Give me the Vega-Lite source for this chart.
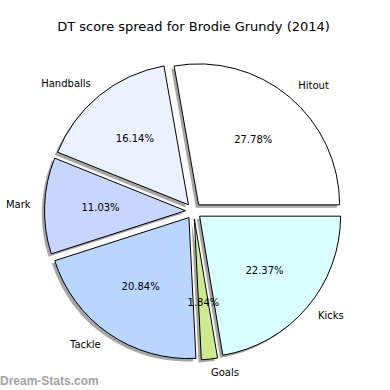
{
  "$schema": "https://vega.github.io/schema/vega-lite/v6.json",
  "width": 390,
  "height": 390,
  "autosize": {"type": "fit", "contains": "padding"},
  "padding": {"top": 21, "left": 0, "right": 3, "bottom": 0},
  "background": "white",
  "title": {"text": "DT score spread for Brodie Grundy (2014)", "font": "DejaVu Sans", "fontSize": 13, "fontWeight": "normal", "color": "#000000", "anchor": "middle", "offset": -2},
  "config": {"view": {"stroke": null}, "text": {"font": "DejaVu Sans"}},
  "layer": [
    {
      "data": {"values": [
        {"stat": "Hitout", "pct": 27.78},
        {"stat": "Handballs", "pct": 16.14},
        {"stat": "Mark", "pct": 11.03},
        {"stat": "Tackle", "pct": 20.84},
        {"stat": "Goals", "pct": 1.84},
        {"stat": "Kicks", "pct": 22.37}
      ]},
      "transform": [
        {"joinaggregate": [{"op": "sum", "field": "pct", "as": "total"}]},
        {"window": [{"op": "sum", "field": "pct", "as": "t1"}], "frame": [null, 0]},
        {"calculate": "datum.t1 - datum.pct", "as": "t0"},
        {"calculate": "(datum.t0 + datum.t1) / 2", "as": "tm"},
        {"calculate": "PI/2 - 2*PI*datum.tm/datum.total", "as": "ang"},
        {"calculate": "sin(datum.ang)", "as": "ux"},
        {"calculate": "-cos(datum.ang)", "as": "uy"},
        {"calculate": "datum.ux - 0.35", "as": "sx"},
        {"calculate": "datum.uy + 0.35", "as": "sy"},
        {"calculate": "datum.pct / datum.total", "as": "frac"}
      ],
      "layer": [
        {
          "mark": {"type": "arc", "outerRadius": 141, "fill": "#4d4d4d", "opacity": 0.5, "strokeWidth": 0},
          "encoding": {
            "theta": {"field": "t0", "type": "quantitative", "stack": null, "scale": {"domain": [0, 100], "range": [1.5707963, -4.712389]}},
            "theta2": {"field": "t1"},
            "xOffset": {"field": "sx", "type": "quantitative", "scale": {"domain": [-1, 1], "range": [-8, 8]}},
            "yOffset": {"field": "sy", "type": "quantitative", "scale": {"domain": [-1, 1], "range": [-8, 8]}}
          }
        },
        {
          "mark": {"type": "arc", "outerRadius": 141, "stroke": "#000000", "strokeWidth": 1},
          "encoding": {
            "theta": {"field": "t0", "type": "quantitative", "stack": null},
            "theta2": {"field": "t1"},
            "xOffset": {"field": "ux", "type": "quantitative"},
            "yOffset": {"field": "uy", "type": "quantitative"},
            "fill": {"field": "stat", "type": "nominal", "legend": null, "scale": {
              "domain": ["Hitout", "Handballs", "Mark", "Tackle", "Goals", "Kicks"],
              "range": ["#ffffff", "#ebf1ff", "#c8d6ff", "#b8d6ff", "#cfea8e", "#d9ffff"]}}
          }
        },
        {
          "transform": [{"filter": "datum.ux >= 0"}],
          "mark": {"type": "text", "radius": 155, "align": "left", "baseline": "middle", "fontSize": 10, "color": "#000000"},
          "encoding": {
            "text": {"field": "stat", "type": "nominal"},
            "theta": {"field": "tm", "type": "quantitative", "stack": null},
            "xOffset": {"field": "ux", "type": "quantitative"},
            "yOffset": {"field": "uy", "type": "quantitative"}
          }
        },
        {
          "transform": [{"filter": "datum.ux < 0"}],
          "mark": {"type": "text", "radius": 155, "align": "right", "baseline": "middle", "fontSize": 10, "color": "#000000"},
          "encoding": {
            "text": {"field": "stat", "type": "nominal"},
            "theta": {"field": "tm", "type": "quantitative", "stack": null},
            "xOffset": {"field": "ux", "type": "quantitative"},
            "yOffset": {"field": "uy", "type": "quantitative"}
          }
        },
        {
          "mark": {"type": "text", "radius": 85, "align": "center", "baseline": "middle", "fontSize": 10, "color": "#000000"},
          "encoding": {
            "text": {"field": "frac", "type": "quantitative", "format": ".2%"},
            "theta": {"field": "tm", "type": "quantitative", "stack": null},
            "xOffset": {"field": "ux", "type": "quantitative"},
            "yOffset": {"field": "uy", "type": "quantitative"}
          }
        }
      ]
    },
    {
      "data": {"values": [{"site": "Dream-Stats.com"}]},
      "mark": {"type": "text", "align": "left", "baseline": "alphabetic", "x": 0, "y": {"expr": "height"}, "dy": -5, "font": "Liberation Sans", "fontSize": 12, "fontWeight": "bold", "color": "#a3a3a3"},
      "encoding": {"text": {"field": "site", "type": "nominal"}}
    }
  ]
}
